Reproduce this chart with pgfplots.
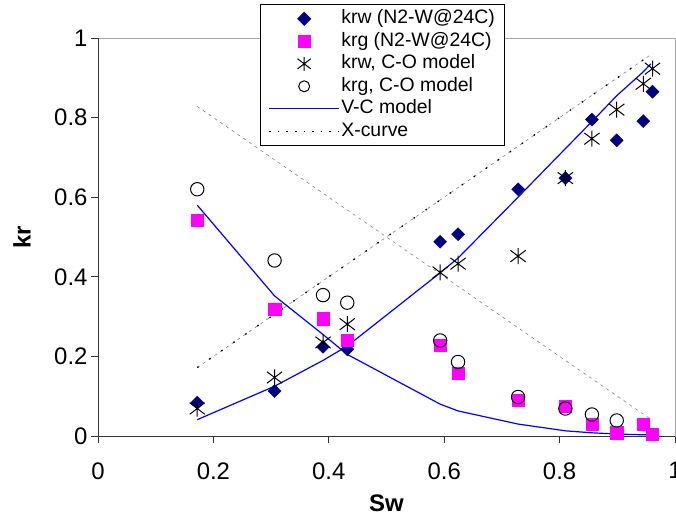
\documentclass[border=0pt]{standalone}
\usepackage{pgfplots}
\pgfplotsset{compat=1.18}
\usepackage{fontspec}
\setmainfont{Liberation Sans}
\definecolor{navy}{RGB}{0,0,128}
\definecolor{mag}{RGB}{255,0,255}
\definecolor{vcblue}{RGB}{0,0,255}
\pgfdeclareplotmark{xstar}{%
  \pgfpathmoveto{\pgfqpoint{0pt}{\pgfplotmarksize}}%
  \pgfpathlineto{\pgfqpoint{0pt}{-\pgfplotmarksize}}%
  \pgfpathmoveto{\pgfqpoint{-0.95\pgfplotmarksize}{0.72\pgfplotmarksize}}%
  \pgfpathlineto{\pgfqpoint{0.95\pgfplotmarksize}{-0.72\pgfplotmarksize}}%
  \pgfpathmoveto{\pgfqpoint{-0.95\pgfplotmarksize}{-0.72\pgfplotmarksize}}%
  \pgfpathlineto{\pgfqpoint{0.95\pgfplotmarksize}{0.72\pgfplotmarksize}}%
  \pgfusepathqstroke}
\begin{document}
\begin{tikzpicture}
\begin{axis}[
  width=577bp, height=398bp, scale only axis,
  xmin=0, xmax=1, ymin=0, ymax=1,
  xtick={0,0.2,0.4,0.6,0.8,1}, ytick={0,0.2,0.4,0.6,0.8,1},
  tick align=outside, xtick pos=bottom, ytick pos=left,
  major tick length=7bp,
  tick style={black!80, line width=0.8bp},
  axis line style={draw=gray!70, line width=0.8bp},
  /pgf/number format/assume math mode=true,
  ticklabel style={font=\fontsize{24}{28}\selectfont},
  xticklabel style={yshift=-16bp},
  xlabel={\bfseries Sw}, ylabel={\bfseries kr},
  label style={font=\fontsize{24}{28}\selectfont},
  xlabel style={at={(axis description cs:0.5,0)}, anchor=center, yshift=-67bp},
  ylabel style={at={(axis description cs:-0.1317,0.5)}, anchor=center},
  clip=false,
  legend style={at={(rel axis cs:0.281,1.085)}, anchor=north west,
    draw=black, line width=0.8bp, fill=white, inner ysep=3bp, inner xsep=8bp,
    font=\fontsize{19.5}{22}\selectfont,
    nodes={inner sep=1.5bp, text height=14.5bp, text depth=5bp},
    /tikz/every even column/.append style={column sep=6bp}},
  legend cell align=left,
  legend image code/.code={\draw[mark repeat=2,mark phase=2,#1] plot coordinates {(0bp,0bp) (35bp,0bp) (70bp,0bp)};},
]
\addlegendimage{only marks, mark=square*, mark size=4.6bp, mark options={rotate=45, fill=navy, draw=navy}}
\addlegendentry{krw (N2-W@24C)}
\addlegendimage{only marks, mark=square*, mark size=6.2bp, mark options={fill=mag, draw=mag}}
\addlegendentry{krg (N2-W@24C)}
\addlegendimage{only marks, mark=xstar, mark size=7bp, mark options={draw=black, line width=1bp}}
\addlegendentry{krw, C-O model}
\addlegendimage{only marks, mark=o, mark size=5.5bp, mark options={draw=black, line width=1bp}}
\addlegendentry{krg, C-O model}
\addlegendimage{vcblue, line width=1.2bp}
\addlegendentry{V-C model}
\addlegendimage{black, line width=1.3bp, dash pattern=on 1.6bp off 7bp}
\addlegendentry{X-curve}

% X-curve
\addplot[forget plot, gray, line width=0.6bp, dash pattern=on 3bp off 4bp] coordinates {
(0.172,0.172) (0.306,0.306) (0.390,0.390) (0.432,0.432) (0.593,0.593) (0.624,0.624) (0.728,0.728) (0.810,0.810) (0.856,0.856) (0.899,0.899) (0.945,0.945) (0.961,0.961)};
\addplot[forget plot, black, line width=1.3bp, dash pattern=on 1.6bp off 13bp] coordinates {
(0.172,0.172) (0.306,0.306) (0.390,0.390) (0.432,0.432) (0.593,0.593) (0.624,0.624) (0.728,0.728) (0.810,0.810) (0.856,0.856) (0.899,0.899) (0.945,0.945) (0.961,0.961)};
\addplot[forget plot, gray, line width=0.6bp, dash pattern=on 3bp off 4bp] coordinates {
(0.172,0.828) (0.306,0.694) (0.390,0.610) (0.432,0.568) (0.593,0.407) (0.624,0.376) (0.728,0.272) (0.810,0.190) (0.856,0.144) (0.899,0.101) (0.945,0.055) (0.961,0.039)};

% V-C model
\addplot[forget plot, vcblue, line width=1.2bp] coordinates {
(0.172,0.041) (0.306,0.125) (0.390,0.190) (0.432,0.226) (0.593,0.410) (0.624,0.447) (0.728,0.600) (0.810,0.722) (0.856,0.790) (0.899,0.855) (0.945,0.915) (0.958,0.935)};
\addplot[forget plot, vcblue, line width=1.2bp] coordinates {
(0.172,0.580) (0.306,0.352) (0.390,0.255) (0.432,0.205) (0.593,0.080) (0.624,0.063) (0.728,0.030) (0.810,0.013) (0.856,0.008) (0.899,0.005) (0.945,0.003) (0.958,0.003)};

% krw data
\addplot[forget plot, only marks, mark=square*, mark size=4.6bp, mark options={rotate=45, fill=navy, draw=navy}] coordinates {
(0.172,0.084) (0.306,0.113) (0.390,0.224) (0.432,0.218) (0.593,0.488) (0.624,0.507) (0.728,0.620) (0.810,0.648) (0.856,0.795) (0.899,0.743) (0.945,0.791) (0.961,0.865)};
% krg data
\addplot[forget plot, only marks, mark=square*, mark size=6.2bp, mark options={fill=mag, draw=mag}] coordinates {
(0.172,0.542) (0.306,0.318) (0.390,0.295) (0.432,0.240) (0.593,0.228) (0.624,0.158) (0.728,0.090) (0.810,0.075) (0.856,0.029) (0.899,0.008) (0.945,0.029) (0.960,0.004)};
% krw C-O
\addplot[forget plot, only marks, mark=xstar, mark size=8bp, mark options={draw=black, line width=1bp}] coordinates {
(0.172,0.069) (0.306,0.147) (0.390,0.235) (0.432,0.281) (0.593,0.411) (0.624,0.433) (0.728,0.452) (0.810,0.648) (0.856,0.747) (0.899,0.820) (0.945,0.885) (0.961,0.923)};
% krg C-O
\addplot[forget plot, only marks, mark=o, mark size=6.7bp, mark options={draw=black, line width=1bp}] coordinates {
(0.172,0.620) (0.306,0.441) (0.390,0.354) (0.432,0.335) (0.593,0.240) (0.624,0.186) (0.728,0.098) (0.810,0.069) (0.856,0.054) (0.899,0.039)};

\draw[black!80, line width=0.9bp] (rel axis cs:0,1) -- (rel axis cs:0,0) -- (rel axis cs:1,0);
\end{axis}
\pgfresetboundingbox
\useasboundingbox ([shift={(-98bp,-91bp)}]current axis.south west) rectangle ([shift={(1bp,38bp)}]current axis.north east);
\end{tikzpicture}
\end{document}
